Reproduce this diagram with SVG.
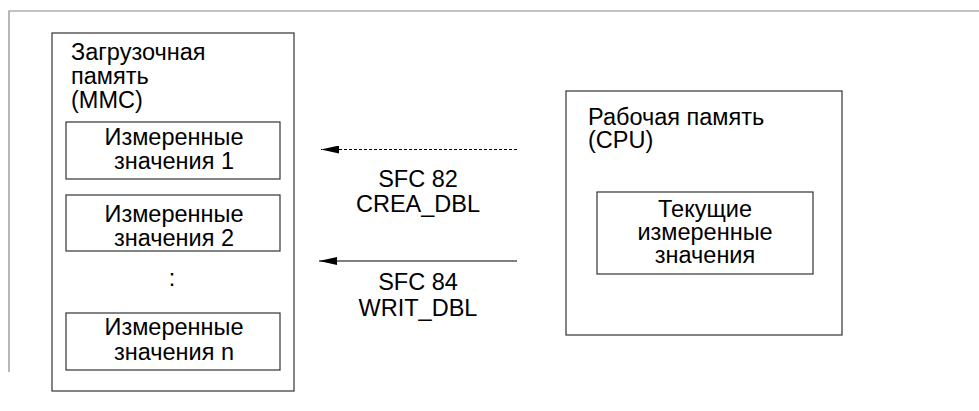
<svg xmlns="http://www.w3.org/2000/svg" width="979" height="411" viewBox="0 0 979 411">
<style>
.box{fill:#fff;stroke:#333;stroke-width:1.2}
.t{font-family:"Liberation Sans",Arial,sans-serif;font-size:23.5px;fill:#000}
.c{text-anchor:middle}
.conn{stroke:#000;stroke-width:1.2;fill:none}
</style>
<defs>
<marker id="ah" markerWidth="18" markerHeight="8" refX="18" refY="4" orient="auto" markerUnits="userSpaceOnUse">
<path d="M0,0 L18,4 L0,8 Z" fill="#000"/>
</marker>
</defs>
<rect width="979" height="411" fill="#fff"/>
<g id="frame">
<path d="M9,372 V11 H979" fill="none" stroke="#888" stroke-width="1.2"/>
</g>
<g id="load-memory">
<rect class="box" x="52" y="33" width="242" height="358"/>
<text class="t" x="71" y="60">Загрузочная</text>
<text class="t" x="71" y="84">память</text>
<text class="t" x="71" y="108">(MMC)</text>
</g>
<g id="mv1">
<rect class="box" x="66" y="122" width="214" height="57"/>
<text class="t c" x="174" y="145">Измеренные</text>
<text class="t c" x="174" y="169">значения 1</text>
</g>
<g id="mv2">
<rect class="box" x="66" y="195" width="214" height="56"/>
<text class="t c" x="174" y="222">Измеренные</text>
<text class="t c" x="174" y="246">значения 2</text>
</g>
<g id="dots">
<text class="t c" x="172" y="286">:</text>
</g>
<g id="mvn">
<rect class="box" x="66" y="313" width="214" height="57"/>
<text class="t c" x="174" y="335">Измеренные</text>
<text class="t c" x="174" y="360">значения n</text>
</g>
<g id="work-memory">
<rect class="box" x="566" y="91" width="276" height="244"/>
<text class="t" x="588" y="125">Рабочая память</text>
<text class="t" x="588" y="148">(CPU)</text>
</g>
<g id="current">
<rect class="box" x="597" y="192" width="216" height="82"/>
<text class="t c" x="705" y="217">Текущие</text>
<text class="t c" x="705" y="240">измеренные</text>
<text class="t c" x="705" y="263">значения</text>
</g>
<g id="connectors">
<line class="conn" x1="517" y1="149.5" x2="321" y2="149.5" stroke-dasharray="3,2" marker-end="url(#ah)"/>
<line class="conn" x1="517" y1="261" x2="319" y2="261" marker-end="url(#ah)"/>
<text class="t c" x="418" y="187">SFC 82</text>
<text class="t c" x="418" y="212">CREA_DBL</text>
<text class="t c" x="418" y="290">SFC 84</text>
<text class="t c" x="418" y="316">WRIT_DBL</text>
</g>
</svg>
